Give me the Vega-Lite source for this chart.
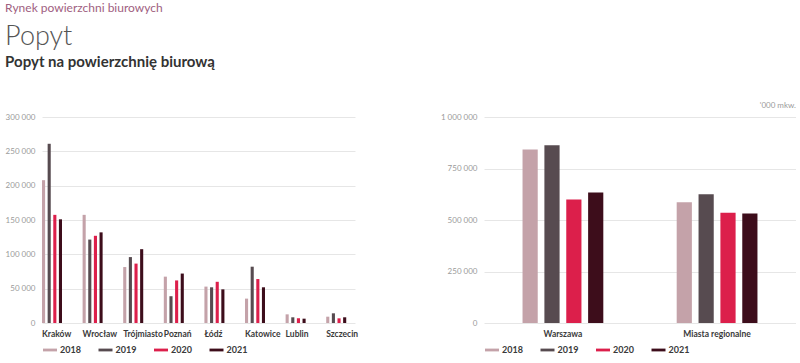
{
  "$schema": "https://vega.github.io/schema/vega-lite/v6.json",
  "background": "white",
  "padding": {"left": 5, "top": 2, "right": 0, "bottom": 0},
  "datasets": {
    "cities": [
      {"miasto": "Kraków", "rok": "2018", "popyt": 208000},
      {"miasto": "Kraków", "rok": "2019", "popyt": 261000},
      {"miasto": "Kraków", "rok": "2020", "popyt": 157500},
      {"miasto": "Kraków", "rok": "2021", "popyt": 151000},
      {"miasto": "Wrocław", "rok": "2018", "popyt": 157500},
      {"miasto": "Wrocław", "rok": "2019", "popyt": 121500},
      {"miasto": "Wrocław", "rok": "2020", "popyt": 127000},
      {"miasto": "Wrocław", "rok": "2021", "popyt": 132000},
      {"miasto": "Trójmiasto", "rok": "2018", "popyt": 81500},
      {"miasto": "Trójmiasto", "rok": "2019", "popyt": 96000},
      {"miasto": "Trójmiasto", "rok": "2020", "popyt": 86500},
      {"miasto": "Trójmiasto", "rok": "2021", "popyt": 107500},
      {"miasto": "Poznań", "rok": "2018", "popyt": 67500},
      {"miasto": "Poznań", "rok": "2019", "popyt": 39000},
      {"miasto": "Poznań", "rok": "2020", "popyt": 62000},
      {"miasto": "Poznań", "rok": "2021", "popyt": 72000},
      {"miasto": "Łódź", "rok": "2018", "popyt": 53000},
      {"miasto": "Łódź", "rok": "2019", "popyt": 52000},
      {"miasto": "Łódź", "rok": "2020", "popyt": 60000},
      {"miasto": "Łódź", "rok": "2021", "popyt": 49000},
      {"miasto": "Katowice", "rok": "2018", "popyt": 35500},
      {"miasto": "Katowice", "rok": "2019", "popyt": 82000},
      {"miasto": "Katowice", "rok": "2020", "popyt": 64000},
      {"miasto": "Katowice", "rok": "2021", "popyt": 52000},
      {"miasto": "Lublin", "rok": "2018", "popyt": 12600},
      {"miasto": "Lublin", "rok": "2019", "popyt": 8300},
      {"miasto": "Lublin", "rok": "2020", "popyt": 6800},
      {"miasto": "Lublin", "rok": "2021", "popyt": 6300},
      {"miasto": "Szczecin", "rok": "2018", "popyt": 9200},
      {"miasto": "Szczecin", "rok": "2019", "popyt": 14100},
      {"miasto": "Szczecin", "rok": "2020", "popyt": 6800},
      {"miasto": "Szczecin", "rok": "2021", "popyt": 8300}
    ],
    "regions": [
      {"region": "Warszawa", "rok": "2018", "popyt": 842000},
      {"region": "Warszawa", "rok": "2019", "popyt": 863000},
      {"region": "Warszawa", "rok": "2020", "popyt": 599000},
      {"region": "Warszawa", "rok": "2021", "popyt": 633000},
      {"region": "Miasta regionalne", "rok": "2018", "popyt": 586000},
      {"region": "Miasta regionalne", "rok": "2019", "popyt": 625000},
      {"region": "Miasta regionalne", "rok": "2020", "popyt": 535000},
      {"region": "Miasta regionalne", "rok": "2021", "popyt": 531000}
    ]
  },
  "title": {
    "text": "Rynek powierzchni biurowych",
    "subtitle": "Popyt",
    "anchor": "start",
    "font": "Lato",
    "fontSize": 12,
    "fontWeight": "normal",
    "color": "#a0607f",
    "subtitleFont": "Lato",
    "subtitleFontSize": 27,
    "subtitleFontWeight": 300,
    "subtitleColor": "#555555",
    "subtitlePadding": 9,
    "offset": 4
  },
  "vconcat": [
    {
      "title": {
        "text": "Popyt na powierzchnię biurową",
        "anchor": "start",
        "font": "Lato",
        "fontSize": 15,
        "fontWeight": "bold",
        "color": "#333333",
        "offset": 32
      },
      "spacing": 82,
      "hconcat": [
        {
          "width": 313,
          "height": 206,
          "data": {"name": "cities"},
          "mark": {"type": "bar"},
          "encoding": {
            "x": {
              "field": "miasto",
              "type": "nominal",
              "sort": ["Kraków", "Wrocław", "Trójmiasto", "Poznań", "Łódź", "Katowice", "Lublin", "Szczecin"],
              "scale": {"paddingInner": 0.507, "paddingOuter": 0.108, "align": 0},
              "axis": {
                "title": null,
                "labelAngle": 0,
                "labelAlign": "left",
                "labelOffset": -10,
                "labelFont": "Lato",
                "labelFontSize": 8.5,
                "labelFontWeight": "bold",
                "labelColor": "#3a3a3a",
                "labelPadding": 6,
                "ticks": false,
                "tickSize": 0,
                "domain": false,
                "grid": false
              }
            },
            "xOffset": {
              "field": "rok",
              "type": "nominal",
              "scale": {"paddingInner": 0.45, "paddingOuter": 0}
            },
            "y": {
              "field": "popyt",
              "type": "quantitative",
              "scale": {"domain": [0, 300000], "nice": false},
              "axis": {
                "title": null,
                "values": [0, 50000, 100000, 150000, 200000, 250000, 300000],
                "labelExpr": "replace(format(datum.value, ','), regexp(',', 'g'), ' ')",
                "labelFont": "Lato",
                "labelFontSize": 8,
                "labelColor": "#9a9a9a",
                "labelPadding": 7,
                "ticks": false,
                "tickSize": 0,
                "domain": false,
                "grid": true,
                "gridColor": "#e6e6e6",
                "gridWidth": 1
              }
            },
            "color": {
              "field": "rok",
              "type": "nominal",
              "scale": {"domain": ["2018", "2019", "2020", "2021"], "range": ["#c4a2a9", "#574b50", "#dc1f4b", "#3d0d1b"]},
              "legend": {
                "title": null,
                "orient": "none",
                "legendX": 1,
                "legendY": 226,
                "direction": "horizontal",
                "symbolType": "M-1,-0.2L1,-0.2L1,0.2L-1,0.2Z",
                "symbolSize": 196,
                "symbolStrokeWidth": 0,
                "labelFont": "Lato",
                "labelFontSize": 9,
                "labelFontWeight": "bold",
                "labelColor": "#3a3a3a",
                "labelOffset": 3,
                "columnPadding": 17.5
              }
            }
          }
        },
        {
          "width": 312,
          "height": 206,
          "data": {"name": "regions"},
          "title": {
            "text": "'000 mkw.",
            "anchor": "end",
            "font": "Lato",
            "fontSize": 8,
            "fontWeight": "normal",
            "color": "#9a9a9a",
            "offset": 3
          },
          "mark": {"type": "bar"},
          "encoding": {
            "x": {
              "field": "region",
              "type": "nominal",
              "sort": ["Warszawa", "Miasta regionalne"],
              "scale": {"paddingInner": 0.476, "paddingOuter": 0.25},
              "axis": {
                "title": null,
                "labelAngle": 0,
                "labelFont": "Lato",
                "labelFontSize": 8.5,
                "labelFontWeight": "bold",
                "labelColor": "#3a3a3a",
                "labelPadding": 6,
                "ticks": false,
                "tickSize": 0,
                "domain": false,
                "grid": false
              }
            },
            "xOffset": {
              "field": "rok",
              "type": "nominal",
              "scale": {"paddingInner": 0.305, "paddingOuter": 0}
            },
            "y": {
              "field": "popyt",
              "type": "quantitative",
              "scale": {"domain": [0, 1000000], "nice": false},
              "axis": {
                "title": null,
                "values": [0, 250000, 500000, 750000, 1000000],
                "labelExpr": "replace(format(datum.value, ','), regexp(',', 'g'), ' ')",
                "labelFont": "Lato",
                "labelFontSize": 8,
                "labelColor": "#9a9a9a",
                "labelPadding": 7,
                "ticks": false,
                "tickSize": 0,
                "domain": false,
                "grid": true,
                "gridColor": "#e6e6e6",
                "gridWidth": 1
              }
            },
            "color": {
              "field": "rok",
              "type": "nominal",
              "scale": {"domain": ["2018", "2019", "2020", "2021"], "range": ["#c4a2a9", "#574b50", "#dc1f4b", "#3d0d1b"]},
              "legend": {
                "title": null,
                "orient": "none",
                "legendX": 1,
                "legendY": 226,
                "direction": "horizontal",
                "symbolType": "M-1,-0.2L1,-0.2L1,0.2L-1,0.2Z",
                "symbolSize": 196,
                "symbolStrokeWidth": 0,
                "labelFont": "Lato",
                "labelFontSize": 9,
                "labelFontWeight": "bold",
                "labelColor": "#3a3a3a",
                "labelOffset": 3,
                "columnPadding": 17.5
              }
            }
          }
        }
      ],
      "resolve": {"scale": {"color": "independent", "xOffset": "independent"}}
    }
  ],
  "config": {
    "view": {"stroke": null},
    "font": "Lato"
  }
}
